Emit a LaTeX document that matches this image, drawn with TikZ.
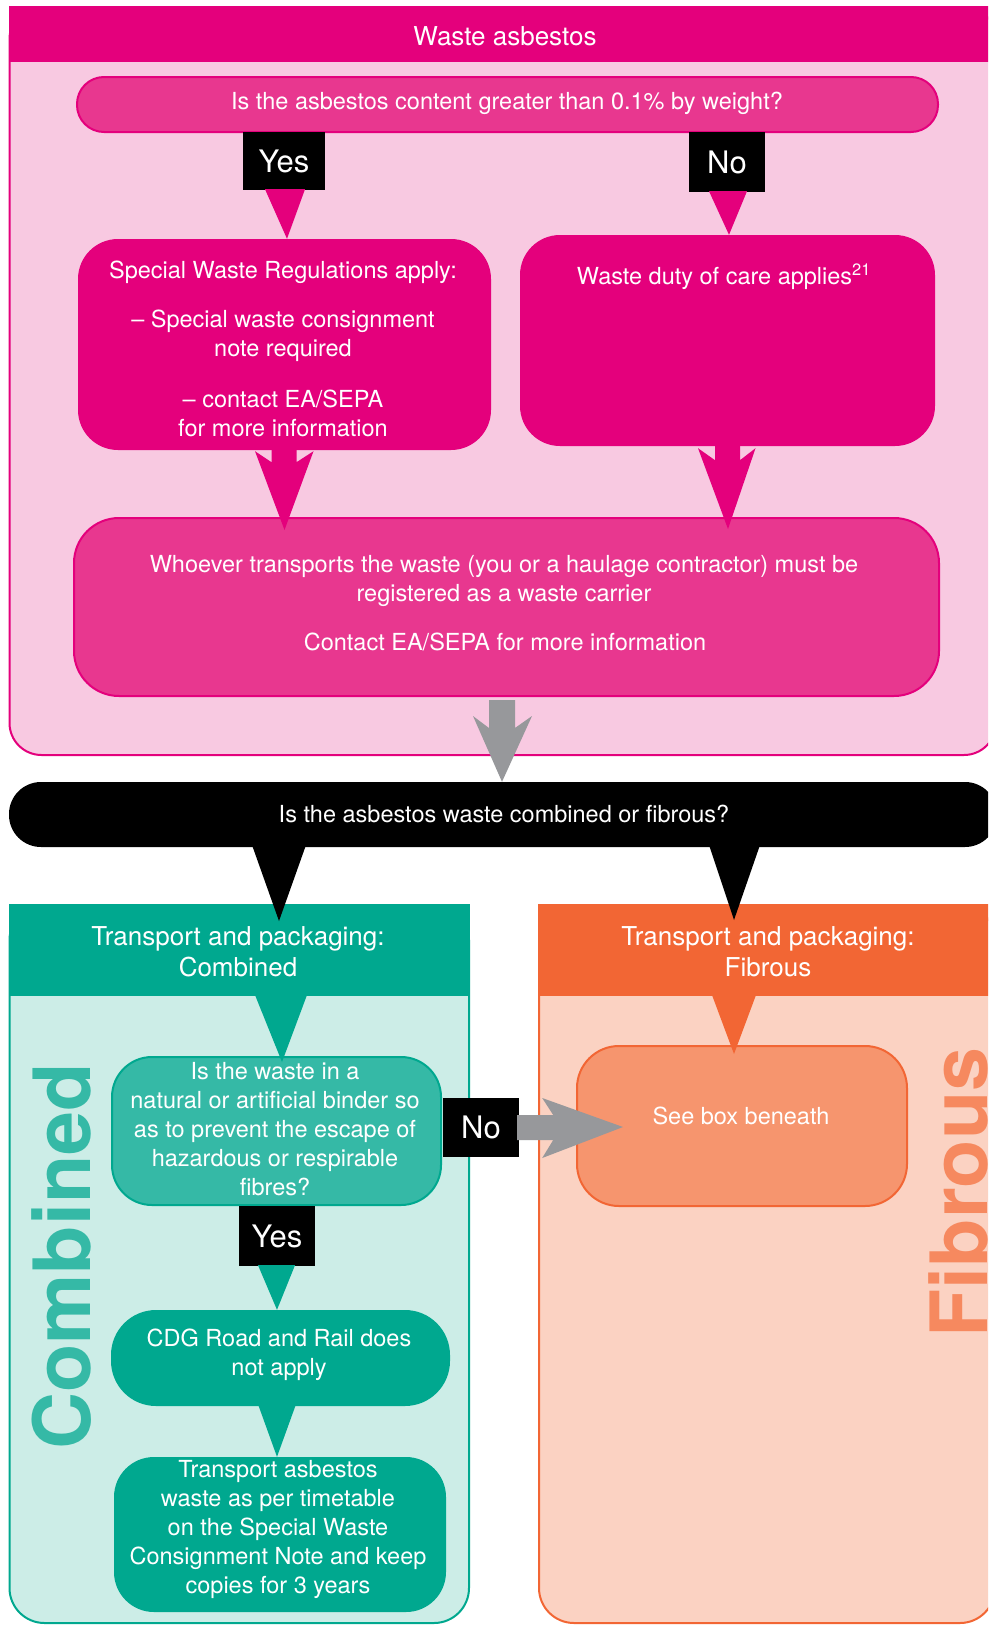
\documentclass[tikz,border=0pt]{standalone}
\usepackage{fontspec}
\setmainfont{TeX Gyre Heros}
\usetikzlibrary{calc}
\definecolor{magx}{HTML}{E4007C}
\definecolor{pinklt}{HTML}{F8C9E1}
\definecolor{pinkmd}{HTML}{E8378F}
\definecolor{greyarr}{HTML}{97989B}
\definecolor{tealdk}{HTML}{00A88F}
\definecolor{teallt}{HTML}{CCEDE7}
\definecolor{tealmd}{HTML}{35B9A6}
\definecolor{orng}{HTML}{F26634}
\definecolor{orlt}{HTML}{FBD2C2}
\definecolor{ormd}{HTML}{F6956E}
\definecolor{orbig}{HTML}{F6895F}
\begin{document}
\begin{tikzpicture}[x=1pt,y=-1pt,
  txt/.style={text=white,font=\fontsize{23.5}{29}\selectfont,align=center,inner sep=0pt},
  hdr/.style={text=white,font=\fontsize{26}{31}\selectfont,align=center,inner sep=0pt},
  lab/.style={fill=black,text=white,font=\fontsize{31}{36}\selectfont,inner sep=0pt},
  rbox/.style={rounded corners=#1,inner sep=0pt},
  bigword/.style={font=\bfseries\fontsize{79}{79}\selectfont,rotate=90,anchor=base,inner sep=0pt}
]
\useasboundingbox (0,0) rectangle (988,1625);
\fill[white] (0,0) rectangle (988,1625);
\clip (0,0) rectangle (988,1625);

% ---------- pink container ----------
\draw[magx,line width=2pt,fill=pinklt,rounded corners=32pt] (9.5,7) rectangle (996,755);
\fill[magx] (8.5,6) rectangle (1000,62);
\node[hdr] (wa) at (505,36) {Waste asbestos};

% question 1
\node[rbox=27pt,draw=magx,line width=2pt,fill=pinkmd,minimum width=861,minimum height=55] (q1) at (507.5,104.5) {};
\node[txt] (q1t) at (507,103) {Is the asbestos content greater than 0.1\% by weight?};

% labels
\node[lab,minimum width=82,minimum height=58] (yes1) at (284,161) {Yes};
\node[lab,minimum width=76,minimum height=60] (no1) at (727,162) {No};

% boxes
\node[rbox=40pt,fill=magx,minimum width=413,minimum height=211] (spec) at (284.5,344.5) {};
\node[rbox=40pt,fill=magx,minimum width=415,minimum height=211] (duty) at (727.5,340.5) {};
\node[txt] (s1) at (283,272) {Special Waste Regulations apply:};
\node[txt] (s2) at (283,335.5) {– Special waste consignment\\note required};
\node[txt] (s3) at (283,413) {– contact EA/SEPA\\for more information};
\node[txt] (d1) at (724,277) {Waste duty of care applies\textsuperscript{21}};

% triangles from labels
\coordinate (t1) at ($(yes1.south |- spec.north)+(3,0)$);
\fill[magx] ($(yes1.south)+(-19,-1)$) -- ($(yes1.south)+(21,-1)$) -- (t1) -- cycle;
\coordinate (t2) at ($(no1.south |- duty.north)+(2,0)$);
\fill[magx] ($(no1.south)+(-18,-1)$) -- ($(no1.south)+(20,-1)$) -- (t2) -- cycle;

% big box
\node[rbox=45pt,draw=magx,line width=2pt,fill=pinkmd,minimum width=865,minimum height=178] (big) at (506.5,607) {};
\node[txt] (b1) at (504,581) {Whoever transports the waste (you or a haulage contractor) must be\\registered as a waste carrier};
\node[txt] (b2) at (505,642) {Contact EA/SEPA for more information};

% notched arrows spec->big and duty->big
\coordinate (a1) at (spec.south);
\coordinate (a1t) at ($(spec.south |- big.north)+(0,13)$);
\fill[magx] ($(a1)+(-13,-3)$) -- ($(a1)+(12,-3)$) -- ($(a1)+(12,12)$) -- ($(a1)+(29,1)$) -- (a1t)
  -- ($(a1)+(-29.5,1)$) -- ($(a1)+(-13,12)$) -- cycle;
\coordinate (a2) at ($(duty.south)+(0.5,0)$);
\coordinate (a2t) at ($(a2 |- big.north)+(0,12)$);
\fill[magx] ($(a2)+(-13,-3)$) -- ($(a2)+(12,-3)$) -- ($(a2)+(12,14)$) -- ($(a2)+(27.5,2)$) -- (a2t)
  -- ($(a2)+(-30,2)$) -- ($(a2)+(-13,14)$) -- cycle;

% black bar
\node[rbox=32pt,fill=black,minimum width=988,minimum height=65] (bar) at (503,814.5) {};
\node[txt] (q2t) at (504,814) {Is the asbestos waste combined or fibrous?};

% grey arrow big -> bar
\coordinate (g1) at ($(big.south)+(-4.5,3)$);
\coordinate (g1t) at (g1 |- bar.north);
\fill[greyarr] ($(g1)+(-13,0)$) -- ($(g1)+(13,0)$) -- ($(g1)+(13,28)$) -- ($(g1)+(30,16)$) -- (g1t)
  -- ($(g1)+(-29,16)$) -- ($(g1)+(-13,28)$) -- cycle;

% ---------- columns ----------
\draw[tealdk,line width=2pt,fill=teallt,rounded corners=35pt] (9.5,905) rectangle (469,1623);
\fill[tealdk] (8.5,904) rectangle (470,996);
\draw[orng,line width=2pt,fill=orlt,rounded corners=35pt] (539,905) rectangle (995,1623);
\fill[orng] (538,904) rectangle (1000,996);
\node[hdr] (th) at (238,952) {Transport and packaging:\\Combined};
\node[hdr] (oh) at (768,952) {Transport and packaging:\\Fibrous};

% black arrows from bar
\coordinate (k1) at (279,845);
\coordinate (k1t) at (279,921);
\fill[black] ($(k1)+(-27,0)$) -- ($(k1)+(27,0)$) -- (k1t) -- cycle;
\coordinate (k2) at (734.5,845);
\coordinate (k2t) at (734,920);
\fill[black] ($(k2)+(-25.5,0)$) -- ($(k2)+(25.5,0)$) -- (k2t) -- cycle;

% big vertical words
\node[bigword,text=tealmd] (cb) at (90,1256.5) {Combined};
\node[bigword,text=orbig] (fb) at (987,1192.5) {Fibrous};

% combined question box
\node[rbox=40pt,draw=tealdk,line width=2pt,fill=tealmd,minimum width=329,minimum height=148] (cq) at (276.5,1131) {};
\node[txt] (cqt) at (275,1129) {Is the waste in a\\natural or artificial binder so\\as to prevent the escape of\\hazardous or respirable\\fibres?};

% header arrows
\coordinate (h1) at (281,996);
\coordinate (h1t) at ($(h1 |- cq.north)+(1,6)$);
\fill[tealdk] ($(h1)+(-26,-1)$) -- ($(h1)+(26,-1)$) -- (h1t) -- cycle;

% see box
\node[rbox=42pt,draw=orng,line width=2pt,fill=ormd,minimum width=330,minimum height=160] (see) at (742,1126) {};
\node[txt] (seet) at (741,1116) {See box beneath};
\coordinate (h2) at (734,996);
\coordinate (h2t) at ($(h2 |- see.north)+(0,9)$);
\fill[orng] ($(h2)+(-22,-1)$) -- ($(h2)+(22,-1)$) -- (h2t) -- cycle;

% No label and grey arrow to see box
\node[lab,minimum width=76,minimum height=59] (no2) at (481,1127.5) {No};
\coordinate (g2) at ($(no2.east)+(-2,0)$);
\coordinate (g2t) at ($(see.west)+(47,1)$);
\fill[greyarr] ($(g2)+(0,-12.5)$) -- ($(g2)+(36,-12.5)$) -- ($(g2)+(25,-29.5)$) -- (g2t)
  -- ($(g2)+(25,30.5)$) -- ($(g2)+(36,12.5)$) -- ($(g2)+(0,12.5)$) -- cycle;

% Yes label
\node[lab,minimum width=76,minimum height=60] (yes2) at (277,1236) {Yes};

% CDG box
\node[rbox=45pt,fill=tealdk,minimum width=339,minimum height=96] (cdg) at (280.5,1358) {};
\node[txt] (cdgt) at (279,1355) {CDG Road and Rail does\\not apply};
\coordinate (y2t) at (yes2.south |- cdg.north);
\fill[tealdk] ($(yes2.south)+(-19,-1)$) -- ($(yes2.south)+(18,-1)$) -- (y2t) -- cycle;

% transport box
\node[rbox=40pt,fill=tealdk,minimum width=332,minimum height=155] (trn) at (280,1534.5) {};
\node[txt] (trnt) at (278,1529) {Transport asbestos\\waste as per timetable\\on the Special Waste\\Consignment Note and keep\\copies for 3 years};
\coordinate (c1) at ($(cdg.south)+(-3.5,-2)$);
\coordinate (c1t) at (c1 |- trn.north);
\fill[tealdk] ($(c1)+(-19,0)$) -- ($(c1)+(19,0)$) -- (c1t) -- cycle;

\end{tikzpicture}
\end{document}
